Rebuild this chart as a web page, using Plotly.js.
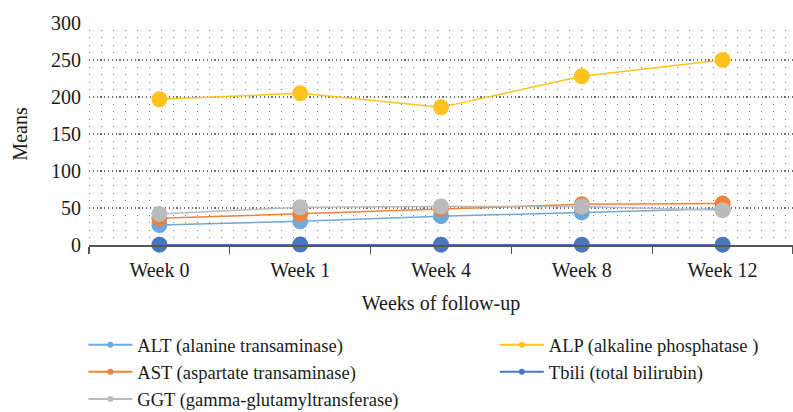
<!DOCTYPE html>
<html>
<head>
<meta charset="utf-8">
<script src="https://cdn.plot.ly/plotly-3.0.1.min.js"></script>
<style>html,body{margin:0;padding:0;background:#fff;}#chart{width:793px;height:412px;}</style>
</head>
<body>
<div id="chart"></div>
<script>
const weeks = ["Week 0", "Week 1", "Week 4", "Week 8", "Week 12"];
const seriesNames = ["ALT (alanine transaminase)", "AST (aspartate transaminase)", "GGT (gamma-glutamyltransferase)", "ALP (alkaline phosphatase )", "Tbili (total bilirubin)"];
const altValues = [27, 32, 39, 44, 49];
const astValues = [36, 42, 49, 55, 56];
const ggtValues = [42, 51, 52, 52, 47];
const alpValues = [197, 205, 186, 228, 250];
const tbiliValues = [0.5, 0.6, 0.5, 0.5, 0.5];
const seriesColors = ["#6FA8DC", "#F0823A", "#BBBBBB", "#FFC21E", "#4A76C1"];
const legendIds = ["legend", "legend", "legend", "legend2", "legend2"];

const allValues = [altValues, astValues, ggtValues, alpValues, tbiliValues];
const drawOrder = [4, 3, 0, 1, 2];

const traces = [];
drawOrder.forEach(i => {
  traces.push({
    type: "scatter", mode: "lines+markers", x: weeks, y: allValues[i],
    name: seriesNames[i], showlegend: false,
    line: {color: seriesColors[i], width: 1.5},
    marker: {color: seriesColors[i], size: 16},
    cliponaxis: false
  });
});
seriesNames.forEach((n, i) => {
  traces.push({
    type: "scatter", mode: "lines+markers", x: [null], y: [null],
    name: n, legend: legendIds[i], legendgroup: "g" + i,
    line: {color: seriesColors[i], width: 2},
    marker: {color: seriesColors[i], size: 6}
  });
});

const FONT = "'Liberation Serif', serif";
const legendCommon = {
  orientation: "v", yanchor: "top", xanchor: "left",
  traceorder: "grouped", tracegroupgap: 0, itemwidth: 44,
  font: {family: FONT, size: 18.5, color: "#1a1a1a"},
  bgcolor: "rgba(0,0,0,0)"
};

const layout = {
  width: 793, height: 412,
  margin: {l: 89, r: 0, t: 23, b: 167, autoexpand: false},
  paper_bgcolor: "#fff", plot_bgcolor: "#fff",
  font: {family: FONT, size: 20, color: "#1a1a1a"},
  showlegend: true,
  xaxis: {
    type: "category", range: [-0.5, 4.5],
    showgrid: false, zeroline: false,
    showline: true, linecolor: "#555", linewidth: 1.5,
    ticks: "outside", tickson: "boundaries", ticklen: 7, tickcolor: "#555", tickwidth: 1.3,
    ticklabelstandoff: 6,
    tickfont: {family: FONT, size: 20, color: "#1a1a1a"},
    title: {text: "Weeks of follow-up", font: {family: FONT, size: 20}, standoff: 16}
  },
  yaxis: {
    range: [0, 300], dtick: 50, tick0: 0,
    showline: false, zeroline: false,
    showgrid: true, gridcolor: "#6e6e6e", gridwidth: 1.2, griddash: "1.2px,2.6px",
    minor: {dtick: 10, showgrid: true, gridcolor: "#777", gridwidth: 1, griddash: "1px,11px"},
    ticks: "", ticklabelstandoff: 7, tickfont: {family: FONT, size: 20, color: "#1a1a1a"},
    title: {text: "Means", font: {family: FONT, size: 20}, standoff: 18}
  },
  legend: Object.assign({}, legendCommon, {x: -0.008, y: -0.366}),
  legend2: Object.assign({}, legendCommon, {x: 0.5765, y: -0.366})
};
Plotly.newPlot("chart", traces, layout, {staticPlot: true, displayModeBar: false});
</script>
</body>
</html>
